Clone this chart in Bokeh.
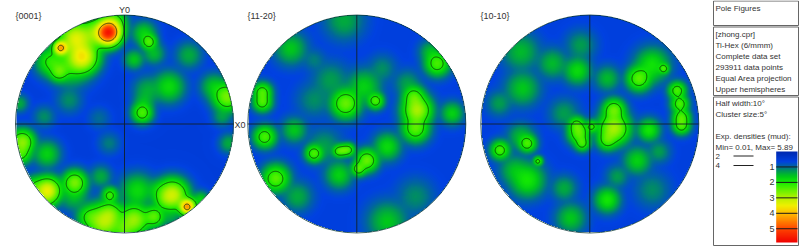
import numpy as np
from bokeh.core.properties import value
from bokeh.embed import file_html
from bokeh.models import LinearColorMapper, Range1d
from bokeh.plotting import figure
from bokeh.resources import INLINE

# ---------- data ----------
# density hot spots: x, y (centre-relative, pole radius = 327), peak height (mud), spread
PEAKS_0001 = [
    (-49,274,5.5,22),(-37,301,2.6,24),(-147,256,3.3,30),(-192,228,4.2,14),(-127,201,3.5,28),
    (-197,156,2.3,18),(-87,271,2.7,30),(-162,181,2.1,36),(-222,186,2.1,26),(28,193,1.6,18),
    (73,246,2.3,15),(58,271,1.7,22),(88,211,1.5,20),(193,206,1.4,24),(133,111,1.8,28),
    (68,101,1.4,26),(53,33,2.3,19),(58,66,1.4,20),(308,81,2.6,26),(268,111,1.6,24),
    (313,-59,1.4,18),(293,21,1.3,18),(-167,71,1.2,24),(-242,21,1.2,20),(-77,16,1.0,20),
    (-317,61,1.4,16),(-307,-54,2.7,22),(-312,-89,2.2,20),(-234,-91,1.7,24),(-47,-59,1.1,20),
    (-232,-201,3.4,24),(-272,-189,1.9,20),(-252,-229,2.0,24),(-150,-177,2.6,22),(-72,-159,1.4,20),
    (-152,-219,1.5,26),(-44,-214,2.2,15),(38,-201,1.8,30),(98,-199,1.5,20),(143,-214,3.2,28),
    (118,-229,1.8,20),(188,-249,4.3,15),(228,-229,1.7,16),(-62,-294,3.0,32),(-42,-269,2.2,22),
    (28,-289,2.8,28),(88,-279,2.4,20),(-107,-279,2.0,22),(-2,-319,2.2,22),(138,-279,1.3,20),
]
PEAKS_1120 = [
    (181,41,2.9,26),(176,-14,2.4,24),(171,81,2.3,20),(241,181,2.3,22),(221,216,1.5,20),
    (286,31,1.7,20),(76,166,1.2,24),(151,121,1.3,24),(-284,95,2.3,17),(-284,65,2.3,17),(-277,-39,2.3,20),
    (-189,-19,1.6,22),(-244,-164,2.4,24),(-199,226,1.6,28),(-129,191,1.1,20),(-34,61,2.5,26),
    (21,111,1.7,30),(56,69,2.3,15),(-79,131,1.3,32),(-129,71,1.2,30),(-129,-89,2.3,16),
    (-55,-82,2.2,12),(-40,-80,2.2,12),(-25,-78,2.2,12),(30,-110,2.5,20),(5,-135,2.3,14),(91,-69,1.8,24),(-54,-154,1.7,24),(-179,-219,1.4,26),
    (91,-294,1.6,34),(176,-219,1.2,32),(-39,311,1.4,34),(-99,-69,1.3,32),
]
PEAKS_1010 = [
    (72,-14,2.9,28),(72,41,2.5,20),(52,-49,2.2,18),(-33,-29,2.4,20),(-40,-4,2.2,16),
    (-23,-59,2.2,14),(5,-8,2.1,12),(177,-19,1.95,20),(262,100,2.3,16),(270,60,2.3,16),(275,20,2.3,16),(275,-5,2.3,16),
    (147,136,2.4,22),(187,176,1.9,30),(222,166,2.2,10),(-38,159,1.8,24),(-113,181,1.5,26),
    (52,136,1.5,22),(-203,106,1.6,30),(-208,216,1.5,32),(-28,236,1.3,26),(-273,61,1.3,22),
    (-270,-79,2.3,17),(-188,-59,2.3,16),(-208,-39,1.5,24),(-156,-112,2.15,9),(-188,-169,1.95,30),
    (-228,-139,1.5,26),(-78,-194,1.4,22),(142,-111,1.7,24),(207,-84,1.3,20),(82,-159,1.3,20),
    (52,-229,1.95,22),(-58,-284,1.6,26),(187,-199,1.2,30),(-78,31,1.3,26),
]
BASE_LEVELS = [0.55, 0.6, 0.6]
POLE_TITLES = ["{0001}", "{11-20}", "{10-10}"]
AXIS_LABELS = ["Y0", "X0"]
DENSITY_MIN, DENSITY_MAX = 0.01, 5.89
CONTOUR_LEVELS = [2, 4]
BAR_TICKS = [1, 2, 3, 4, 5]
INFO_HEADER = ["Pole Figures"]
INFO_DATA = ["[zhong.cpr]", "Ti-Hex (6/mmm)", "Complete data set", "293911 data points",
             "Equal Area projection", "Upper hemispheres"]
INFO_CALC = ["Half width:10°", "Cluster size:5°", "", "Exp. densities (mud):", "Min= 0.01, Max= 5.89"]

# ---------- styling / layout ----------
W, H = 800, 247
R = 109.0
CY = 123.5
CENTRES = [124.0, 356.3, 589.3]
TITLE_X = [15, 247, 480]
INK = "#333333"
FONT = value("Liberation Sans")
STOPS = [(0.0,(0,40,175)),(0.65,(0,65,225)),(0.95,(0,100,160)),(1.25,(0,150,85)),(1.6,(0,200,25)),(2.0,(20,235,0)),
         (2.5,(100,240,0)),(3.0,(180,240,0)),(3.5,(240,240,0)),(4.0,(255,190,0)),(5.0,(255,70,0)),(5.89,(240,0,0))]
sv = np.linspace(0, 5.89, 256)
palette = ["#%02x%02x%02x" % tuple(int(round(np.interp(v, [s[0] for s in STOPS], [s[1][c] for s in STOPS]))) for c in range(3)) for v in sv]
mapper = LinearColorMapper(palette=palette, low=0, high=DENSITY_MAX, nan_color=(0, 0, 0, 0))


def Y(py):
    return H - py


p = figure(width=W, height=H, output_backend="svg", toolbar_location=None,
           x_range=Range1d(0, W), y_range=Range1d(0, H), min_border=0,
           x_axis_type=None, y_axis_type=None, outline_line_color=None)
p.grid.visible = False

# pole figures
N = 436
axis = np.linspace(-1, 1, N)
gx, gy = np.meshgrid(axis, axis)
mask = gx**2 + gy**2 > 1.0
for peaks, base, cx in zip([PEAKS_0001, PEAKS_1120, PEAKS_1010], BASE_LEVELS, CENTRES):
    acc = np.zeros_like(gx)
    for (a, b, h, s) in peaks:
        acc += ((h - base) * np.exp(-(((gx - a / 327) ** 2 + (gy - b / 327) ** 2) / (2 * (s / 327 * 1.3) ** 2)))) ** 2.5
    f = np.clip(base + acc ** 0.4, DENSITY_MIN, DENSITY_MAX)
    img = f.copy()
    img[mask] = np.nan
    p.image(image=[img], x=cx - R, y=Y(CY) - R, dw=2 * R, dh=2 * R, color_mapper=mapper)
    p.contour(cx + gx * R, Y(CY) + gy * R, np.ma.masked_where(mask, f), levels=CONTOUR_LEVELS,
              line_color="#10300f", line_width=0.8, fill_color=None)
    p.circle(x=[cx], y=[Y(CY)], radius=R, fill_color=None, line_color="#0b3a3a", line_width=0.8)
    p.segment(x0=[cx - R, cx], y0=[Y(CY), Y(CY) - R], x1=[cx + R, cx], y1=[Y(CY), Y(CY) + R],
              line_color="#10202a", line_width=0.9)

def txt(x, y, s, align="left", size="8px"):
    p.text(x=[x], y=[Y(y)], text=[s], text_font=FONT, text_font_size=size, text_color=INK,
           text_align=align, text_baseline="middle")

for x, t in zip(TITLE_X, POLE_TITLES):
    txt(x, 15.5, t, size="9px")
txt(124, 9.5, AXIS_LABELS[0], "center", "9px")
txt(234, 124, AXIS_LABELS[1], size="9px")

# side panels
for (x0, y0, x1, y1) in [(713, 0.5, 798, 25), (713, 26.5, 798, 95), (713, 96.5, 798, 245)]:
    p.quad(left=[x0], right=[x1], top=[Y(y0)], bottom=[Y(y1)], fill_color="white",
           line_color="#666666", line_width=1)
for i, t in enumerate(INFO_HEADER):
    txt(715, 7.5 + 11 * i, t)
for i, t in enumerate(INFO_DATA):
    txt(715, 33.5 + 11 * i, t)
for i, t in enumerate(INFO_CALC):
    txt(715, 103 + 11 * i, t)

# contour key
for lvl, y in zip(CONTOUR_LEVELS, [155.5, 165]):
    txt(715, y, str(lvl))
    p.segment(x0=[733], y0=[Y(y)], x1=[753], y1=[Y(y)], line_color="#222222", line_width=1)

# colour bar
BAR_X0, BAR_X1, BAR_TOP, BAR_BOTTOM = 775.7, 797, 151.0, 242.0
bar = np.linspace(DENSITY_MAX, 0, 256)[:, None]
p.image(image=[bar], x=BAR_X0, y=Y(BAR_BOTTOM), dw=BAR_X1 - BAR_X0, dh=BAR_BOTTOM - BAR_TOP, color_mapper=mapper)
for v in BAR_TICKS:
    y = BAR_TOP + (BAR_BOTTOM - BAR_TOP) * v / DENSITY_MAX
    p.segment(x0=[BAR_X0], y0=[Y(y)], x1=[BAR_X1], y1=[Y(y)], line_color="#1a1a1a", line_width=1)
    txt(774, y, str(v), "right", "9px")

open("out.html", "w").write(file_html(p, INLINE))
